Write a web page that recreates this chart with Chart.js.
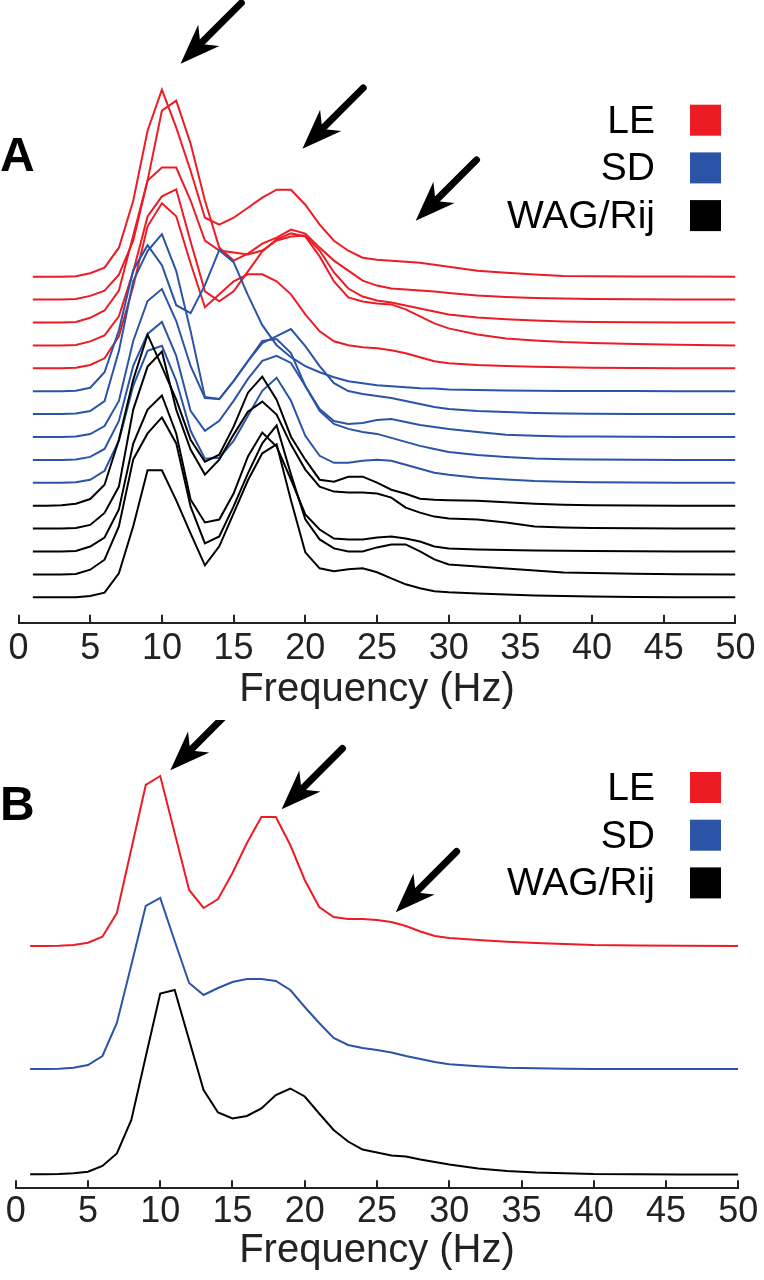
<!DOCTYPE html>
<html lang="en">
<head>
  <meta charset="UTF-8">
  <title>Power spectra LE / SD / WAG/Rij</title>
  <script src="https://cdn.jsdelivr.net/npm/chart.js"></script>
  <style>
    body { margin: 0; background: #fff; }
    .figure { position: relative; width: 764px; height: 1280px; }
    .figure canvas { position: absolute; left: 0; }
    #panelA { top: 0; }
    #panelB { top: 720px; }
  </style>
</head>
<body>
  <div class="figure">
    <canvas id="panelA" width="764" height="720"></canvas>
    <canvas id="panelB" width="764" height="560"></canvas>
  </div>

  <script>
    // frequency bins (Hz) shared by every trace
    const freqs = [1,2,3,4,5,6,7,8,9,10,11,12,13,14,15,16,17,18,19,20,
                   21,22,23,24,25,26,27,28,29,30,32,34,36,38,40,43,46,50];
    const freqTicks = [0,5,10,15,20,25,30,35,40,45,50];

    const groups = ['LE', 'SD', 'WAG/Rij'];
    const groupColors = ['#ED1C24', '#2B54A6', '#000000'];

    // Panel A: individual animals, power above each trace's own baseline
    const leA = [
      [0,0,0,0.5,3.4,9,29,76,146,187, 149,106,59,52,59,69,79,87,87,72, 52,36,26,19,17,16,15,14,12,10, 6,4,2.2,0.7,0.5,0.3,0.1,0],
      [0,0,0,0.5,3.7,9,25,59,119,189, 199,156,99,52,39,46,56,62,70,66, 52,39,29,19,14,11,10,9,8,6.7, 4.2,2.7,1.7,1,0.6,0.3,0.1,0],
      [0,0,0,0.5,4.7,12,32,87,142,155, 155,122,82,72,70,68,72,82,86,87, 72,50,34,26,22,20,17,14,11,8, 5,3.2,1.9,1,0.6,0.3,0.1,0],
      [0,0,0,0.5,4,10,29,74,129,149, 156,104,54,44,54,74,94,106,112,109, 89,64,48,44,42,41,36,29,22,17, 11,7,5,3.3,2.3,1.3,0.6,0],
      [0,0,0,0.5,3.3,10,32,82,142,165, 152,105,61,74,87,94,94,87,74,54, 37,27,23,21,20,18,15,11,7,5, 3.3,2.3,1.5,1,0.6,0.3,0.1,0]
    ];
    const sdA = [
      [0,0,0,0.5,3.4,19,61,121,146,126, 86,78,106,141,129,96,66,46,34,25, 19,14,10,8,6,5,4,3,2.7,1.7, 1.2,0.7,0.4,0.3,0.2,0.1,0,0],
      [0,0,0,0.5,3,13,63,133,163,180, 143,83,17,15,33,53,71,78,85,68, 48,31,23,20,18,16,13,10,7,5, 3,2,1,0.6,0.4,0.2,0,0],
      [0,0,0,0.5,3,11,36,96,136,148, 116,71,39,38,56,76,96,98,84,51, 28,16,13,14,17,18,15,12,10,8, 5,2.3,1.3,0.6,0.4,0.2,0,0],
      [0,0,0,0.5,3,11,39,94,126,138, 104,49,29,39,59,81,99,104,97,74, 49,36,31,28,26,22,18,14,11,8, 5,3,1.3,0.6,0.4,0.2,0,0],
      [0,0,0,0.5,3,12,42,97,132,137, 102,52,24,25,42,67,92,105,82,47, 27,20,20,22,23,22,18,14,10,8, 5,3.3,1.8,1,0.6,0.3,0.1,0]
    ];
    const wagA = [
      [0,0,0.5,2,6.7,21,66,126,171,139, 106,66,44,51,79,113,129,106,69,46, 26,24,29,29,23,16,12,7,6,5.5, 5,3.5,2,1,0.5,0.3,0,0],
      [0,0,0,0.5,3.7,15.7,42,119,162,177, 119,79,54,69,94,117,127,114,84,59, 42,37,36,36,35,31,21,16,12,10, 9,6,2,1,0.5,0.3,0,0],
      [0,0,0,0.5,5,14,42,108,142,156, 118,52,29,32,58,95,119,105,72,37, 22,13,12,12,14,15,13,10,5,3, 2,1.5,1,0.7,0.5,0.3,0,0],
      [0,0,0,0.5,4.7,14.7,48,115,141,157, 131,68,31,38,68,101,131,149,100,55, 35,26,23,23,27,30,30,23,15,10, 8,6,4,2,1.4,0.7,0.2,0],
      [0,0,0,0,1.3,4.7,24,71,127,127, 97,64,32,51,84,117,144,153,97,45, 29,26,28,29,25,19,13,9,6,5, 3.8,2.8,1.8,1.3,0.8,0.3,0,0]
    ];

    // Panel B: group averages
    const leB  = [0,0,0.3,1,3.3,9.3,33,97,161,170, 113,56,38,47,73,103,129,129,101,66, 39,29,27,27,26,24,20,14.5,10,8, 6,4.2,3,2,1,0.5,0.2,0];
    const sdB  = [0,0,0.3,1.3,4,13,46,104,163,171, 128,86,74,81,87,90,90,88,79,62, 46,31,24,21,19,16.5,13,10,7,4.7, 2.7,1.3,0.7,0.2,0,0,0,0];
    const wagB = [0.2,0.2,0.5,1.2,2.8,8.5,21,54.5,118,181, 184.5,134.5,84.5,62,56,58.5,66,79.5,86,78, 61,44.5,33,25,22,19,18,15,12.5,10, 6,3.5,2,1.2,0.4,0.2,0,0];

    // vertical offsets of the stacked traces (same units as the power values)
    const offsetA0 = 25.4, offsetAStep = 22.9;
    const offsetsB = { le: 242.3, sd: 119.3, wag: 13.8 };

    // arrow tips, in (Hz, plotted value) coordinates
    const arrowsA = [[11.3, 559], [19.8, 474], [27.7, 402]];
    const arrowsB = [[10.7, 418], [18.4, 379], [26.3, 276]];

    const FONT = "'Liberation Sans', Arial, Helvetica, sans-serif";
    Chart.defaults.font.family = FONT;
    Chart.defaults.color = '#222';

    const toPoints = (vals, offset) => vals.map((v, i) => ({ x: freqs[i], y: v + offset }));

    const lineSet = (label, vals, offset, color) => ({
      label: label,
      data: toPoints(vals, offset),
      borderColor: color,
      borderWidth: 2,
      pointRadius: 0,
      tension: 0,
      fill: false
    });

    // inward tick marks on the frequency axis
    const tickMarks = {
      id: 'tickMarks',
      afterDraw(chart) {
        const ctx = chart.ctx, sx = chart.scales.x, bottom = chart.chartArea.bottom;
        ctx.save();
        ctx.strokeStyle = '#222';
        ctx.lineWidth = 2;
        freqTicks.forEach(v => {
          const px = Math.round(sx.getPixelForValue(v));
          ctx.beginPath();
          ctx.moveTo(px, bottom);
          ctx.lineTo(px, bottom - 8);
          ctx.stroke();
        });
        ctx.restore();
      }
    };

    // panel letter, legend and arrows
    const extras = {
      id: 'extras',
      afterDraw(chart, args, opts) {
        const ctx = chart.ctx, sx = chart.scales.x, sy = chart.scales.y;
        ctx.save();

        ctx.fillStyle = '#000';
        ctx.font = 'bold 48px ' + FONT;
        ctx.textAlign = 'left';
        ctx.textBaseline = 'alphabetic';
        ctx.fillText(opts.letter, 0, opts.letterY);

        ctx.font = '39px ' + FONT;
        ctx.textAlign = 'right';
        groups.forEach((g, i) => {
          const y = opts.legendY + i * 47.7;
          ctx.fillStyle = '#000';
          ctx.fillText(g, 655, y);
          ctx.fillStyle = groupColors[i];
          ctx.fillRect(690, y - 28, 31, 31);
        });

        const ux = Math.SQRT1_2, uy = -Math.SQRT1_2;   // toward the tail
        const nx = Math.SQRT1_2, ny = Math.SQRT1_2;
        opts.arrows.forEach(([f, v]) => {
          const tx = sx.getPixelForValue(f), ty = sy.getPixelForValue(v);
          ctx.strokeStyle = '#000';
          ctx.lineWidth = 7;
          ctx.lineCap = 'round';
          ctx.beginPath();
          ctx.moveTo(tx + 26 * ux, ty + 26 * uy);
          ctx.lineTo(tx + 86 * ux, ty + 86 * uy);
          ctx.stroke();
          ctx.fillStyle = '#000';
          ctx.beginPath();
          ctx.moveTo(tx, ty);
          ctx.lineTo(tx + 40 * ux + 15 * nx, ty + 40 * uy + 15 * ny);
          ctx.lineTo(tx + 28 * ux, ty + 28 * uy);
          ctx.lineTo(tx + 40 * ux - 15 * nx, ty + 40 * uy - 15 * ny);
          ctx.closePath();
          ctx.fill();
        });
        ctx.restore();
      }
    };

    const makeOptions = (yMax, tickPad, titlePad, extraOpts) => ({
      responsive: false,
      animation: false,
      events: [],
      layout: { autoPadding: false, padding: { left: 15, right: 16, top: 0, bottom: 0 } },
      plugins: {
        legend: { display: false },
        tooltip: { enabled: false },
        extras: extraOpts
      },
      scales: {
        x: {
          type: 'linear',
          position: 'bottom',
          min: 0,
          max: 50,
          afterBuildTicks: s => { s.ticks = freqTicks.map(v => ({ value: v })); },
          grid: { display: false, drawTicks: false },
          border: { display: true, color: '#222', width: 2 },
          ticks: {
            autoSkip: false,
            maxRotation: 0,
            minRotation: 0,
            padding: tickPad,
            color: '#222',
            font: { size: 36, lineHeight: 1 }
          },
          title: {
            display: true,
            text: 'Frequency (Hz)',
            color: '#222',
            font: { size: 40, lineHeight: 0.7 },
            padding: titlePad
          }
        },
        y: { display: false, min: 0, max: yMax }
      }
    });

    // Panel A: black drawn on top, then blue, then red
    const datasetsA = [];
    wagA.forEach((vals, i) => datasetsA.push(lineSet('WAG/Rij', vals, offsetA0 + offsetAStep * (4 - i), groupColors[2])));
    sdA.forEach((vals, i) => datasetsA.push(lineSet('SD', vals, offsetA0 + offsetAStep * (9 - i), groupColors[1])));
    leA.forEach((vals, i) => datasetsA.push(lineSet('LE', vals, offsetA0 + offsetAStep * (14 - i), groupColors[0])));

    new Chart(document.getElementById('panelA'), {
      type: 'line',
      data: { datasets: datasetsA },
      options: makeOptions(622.7, 8.5, { top: 0, bottom: 16.3 },
        { letter: 'A', letterY: 171, legendY: 132.7, arrows: arrowsA }),
      plugins: [tickMarks, extras]
    });

    const datasetsB = [
      lineSet('WAG/Rij', wagB, offsetsB.wag, groupColors[2]),
      lineSet('SD', sdB, offsetsB.sd, groupColors[1]),
      lineSet('LE', leB, offsetsB.le, groupColors[0])
    ];

    new Chart(document.getElementById('panelB'), {
      type: 'line',
      data: { datasets: datasetsB },
      options: makeOptions(468.3, 5.7, { top: 1.3, bottom: 15 },
        { letter: 'B', letterY: 100, legendY: 80, arrows: arrowsB }),
      plugins: [tickMarks, extras]
    });
  </script>
</body>
</html>
